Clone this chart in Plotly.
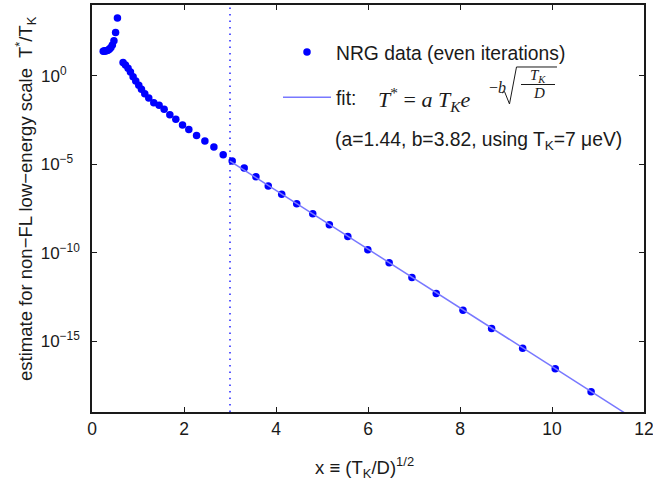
import numpy as np
import plotly.graph_objects as go

# ---------------- data ----------------
x_nrg = [0.244, 0.263, 0.283, 0.305, 0.329, 0.354, 0.382, 0.411, 0.443, 0.477, 0.513, 0.553,
         0.675, 0.727, 0.784, 0.836, 0.893, 0.951, 1.017, 1.075, 1.147, 1.234, 1.343,
         1.459, 1.568, 1.692, 1.822, 1.968, 2.105, 2.273, 2.454, 2.650, 2.852,
         3.048, 3.309, 3.564, 3.832, 4.124, 4.450, 4.799, 5.160, 5.561, 5.996,
         6.460, 6.955, 7.483, 8.065, 8.687, 9.362, 10.07, 10.85]
log10_ratio_nrg = [1.39, 1.40, 1.40, 1.41, 1.43, 1.46, 1.52, 1.60, 1.74, 1.98, 2.44, 3.27,
                   0.75, 0.61, 0.42, 0.21, -0.05, -0.29, -0.54, -0.76, -1.01, -1.25, -1.52,
                   -1.67, -1.89, -2.20, -2.46, -2.78, -3.04, -3.37, -3.69, -4.03, -4.46,
                   -4.82, -5.21, -5.70, -6.23, -6.69, -7.23, -7.79, -8.42, -9.08, -9.83,
                   -10.57, -11.40, -12.30, -13.25, -14.28, -15.40, -16.56, -17.86]
y_nrg = [10.0 ** v for v in log10_ratio_nrg]   # T*/T_K

fit_a = 1.44
fit_b = 3.82
fit_x_start = 3.0
fit_x_end = 12.0
threshold_x = 3.0

x_tick_vals = [0, 2, 4, 6, 8, 10, 12]
y_tick_vals = [1e0, 1e-5, 1e-10, 1e-15]
y_tick_text = ["10<sup>0\u00a0\u00a0\u00a0\u00a0</sup>", "10<sup>\u22125\u00a0\u00a0</sup>",
               "10<sup>\u221210</sup>", "10<sup>\u221215</sup>"]

fit_x = np.linspace(fit_x_start, fit_x_end, 40)
fit_y = fit_a * np.exp(-fit_b * fit_x)

# ---------------- figure ----------------
W, H = 653, 491
ML, MR, MT, MB = 92, 9, 5, 79
PW, PH = W - ML - MR, H - MT - MB


def px(xp):
    return (xp - ML) / PW


def py(yp):
    return (H - MB - yp) / PH


SANS = "Liberation Sans, Arial, Helvetica, sans-serif"
SERIF = "Liberation Serif, Times New Roman, serif"
TXT = "#1a1a1a"

traces = [
    go.Scatter(
        x=x_nrg, y=y_nrg, mode="markers", name="NRG data (even iterations)",
        legendgroup="g1",
        marker=dict(color="#0000ff", size=7.5, line=dict(width=0)),
        cliponaxis=False,
    ),
    go.Scatter(
        x=fit_x, y=fit_y, mode="lines", name="fit:", legendgroup="g2",
        line=dict(color="#7878ff", width=1.5),
    ),
]

annotations = []
# fit formula pieces
annotations.append(dict(text="<i>T</i><sup>*</sup> = <i>a</i> <i>T</i><sub><i>K</i></sub><i>e</i>",
                        x=px(376), y=py(99), xanchor="left", yanchor="middle",
                        font=dict(family=SERIF, size=22, color=TXT)))
annotations.append(dict(text="\u2212<i>b</i>", x=px(487), y=py(88), xanchor="left", yanchor="middle",
                        font=dict(family=SERIF, size=16, color=TXT)))
annotations.append(dict(text="<i>T</i><sub><i>K</i></sub>", x=px(538), y=py(76), xanchor="center",
                        yanchor="middle", font=dict(family=SERIF, size=15, color=TXT)))
annotations.append(dict(text="<i>D</i>", x=px(539), y=py(93), xanchor="center", yanchor="middle",
                        font=dict(family=SERIF, size=15, color=TXT)))
# parameters line
annotations.append(dict(text="(a=1.44, b=3.82, using T<sub>K</sub>=7 \u03bceV)",
                        x=px(333), y=py(141), xanchor="left", yanchor="middle",
                        font=dict(family=SANS, size=19.3, color=TXT)))
# axis titles
annotations.append(dict(text="x \u2261 (T<sub>K</sub>/D)<sup>1/2</sup>",
                        x=px(364), y=py(467), xanchor="center", yanchor="middle",
                        font=dict(family=SANS, size=18.5, color=TXT)))
annotations.append(dict(text="estimate for non\u2212FL low\u2212energy scale  T<sup>*</sup>/T<sub>K</sub>",
                        x=px(26), y=py(199), xanchor="center", yanchor="middle", textangle=-90,
                        font=dict(family=SANS, size=18.5, color=TXT)))
for a in annotations:
    a.update(xref="paper", yref="paper", showarrow=False)

radical_pts = [(502, 93), (504.5, 91.5), (509.5, 104), (516.5, 67), (557, 67)]
radical_path = "M" + " L".join("{:.5f},{:.5f}".format(px(a), py(b)) for a, b in radical_pts)

shapes = [
    # dotted threshold line
    dict(type="line", xref="x", yref="paper", x0=threshold_x, x1=threshold_x, y0=0, y1=1,
         line=dict(color="#0000ff", width=1.3, dash="1.5px,5px"), layer="above"),
    # radical sign and vinculum
    dict(type="path", xref="paper", yref="paper", path=radical_path,
         line=dict(color=TXT, width=1)),
    # fraction bar
    dict(type="line", xref="paper", yref="paper", x0=px(521), x1=px(555), y0=py(84.5), y1=py(84.5),
         line=dict(color=TXT, width=1)),
]

layout = go.Layout(
    width=W, height=H,
    margin=dict(l=ML, r=MR, t=MT, b=MB, pad=0, autoexpand=False),
    paper_bgcolor="white", plot_bgcolor="white",
    font=dict(family=SANS, size=17, color=TXT),
    showlegend=True,
    legend=dict(x=px(278), y=py(33), xanchor="left", yanchor="top",
                bgcolor="rgba(0,0,0,0)", borderwidth=0, itemwidth=48,
                tracegroupgap=17, font=dict(family=SANS, size=19.3, color=TXT)),
    annotations=annotations,
    shapes=shapes,
    xaxis=dict(range=[0, 12], tickvals=x_tick_vals, ticks="inside", ticklen=5, tickwidth=1,
               tickcolor="#1a1a1a", showline=True, linecolor="#1a1a1a", linewidth=1.5,
               mirror="ticks", showgrid=False, zeroline=False, automargin=False,
               ticklabeloverflow="allow",
               tickfont=dict(family=SANS, size=17.5, color=TXT)),
    yaxis=dict(type="log", range=[-19, 4], tickvals=y_tick_vals, ticktext=y_tick_text,
               ticks="inside", ticklen=5, tickwidth=1, tickcolor="#1a1a1a",
               showline=True, linecolor="#1a1a1a", linewidth=1.5, mirror="ticks",
               showgrid=False, zeroline=False, ticklabelstandoff=7, automargin=False,
               ticklabeloverflow="allow",
               tickfont=dict(family=SANS, size=17, color=TXT)),
)

fig = go.Figure(data=traces, layout=layout)
fig.write_html("out.html", config={"displayModeBar": False},
               post_script="document.body.style.margin='0';document.body.style.padding='0';")
